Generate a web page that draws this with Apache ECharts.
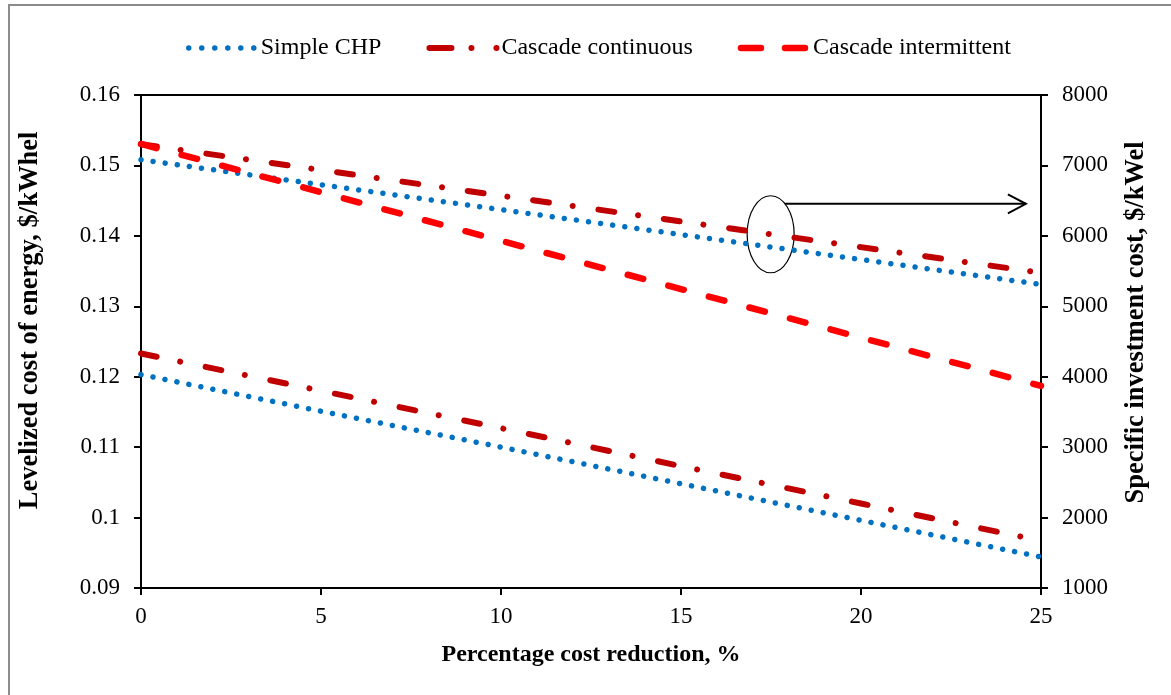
<!DOCTYPE html>
<html>
<head>
<meta charset="utf-8">
<script src="https://cdn.jsdelivr.net/npm/echarts@6/dist/echarts.min.js"></script>
<style>
  html, body { margin: 0; padding: 0; background: #fff; }
  #chart { width: 1171px; height: 695px; }
</style>
</head>
<body>
<div id="chart"></div>
<script>
// ---- data ----
const costReduction = [0, 5, 10, 15, 20, 25];           // %
// Specific investment cost, $/kWel (right axis)
const simpleInvest       = [7080, 6726, 6372, 6018, 5664, 5310];
const continuousInvest   = [7300, 6935, 6570, 6205, 5840, 5475];
const intermittentInvest = [7305, 6620, 5930, 5245, 4555, 3870];
// Levelized cost of energy, $/kWhel (left axis)
const simpleLcoe     = [0.1203, 0.1151, 0.1100, 0.1048, 0.0996, 0.0944];
const continuousLcoe = [0.1233, 0.1180, 0.1127, 0.1073, 0.1020, 0.0967];

const seriesNames = ['Simple CHP', 'Cascade continuous', 'Cascade intermittent'];
const xTitle = 'Percentage cost reduction, %';
const yLeftTitle = 'Levelized cost of energy, $/kWhel';
const yRightTitle = 'Specific investment cost, $/kWel';

const FONT = '"Liberation Serif", "Times New Roman", serif';
const pairs = (ys) => costReduction.map((x, i) => [x, ys[i]]);

const styleSimple = { color: '#0070C0', width: 5.5, cap: 'round', type: [0.01, 12.2] };
const styleCont   = { color: '#C00000', width: 6, cap: 'round', type: [16, 24, 0.01, 26] };
const styleInter  = { color: '#FF0000', width: 6.5, cap: 'round', type: [16, 26] };
const legendStyles = [
  { color: '#0070C0', width: 5.5, cap: 'round', type: [0.01, 13] },
  { color: '#C00000', width: 6, cap: 'round', type: [22, 20, 0.01, 25, 0.01, 100] },
  { color: '#FF0000', width: 6.5, cap: 'round', type: [20, 24] }
];

function mkSeries(name, data, yIdx, ls) {
  return {
    name, type: 'line', data: pairs(data), yAxisIndex: yIdx,
    symbol: 'none', showSymbol: false, smooth: false,
    lineStyle: ls, itemStyle: { color: ls.color }, animation: false
  };
}

const chart = echarts.init(document.getElementById('chart'), null, { renderer: 'canvas' });
const axisLine = { show: true, onZero: false, lineStyle: { color: '#000', width: 2 } };
const axisTick = { show: true, length: 7, lineStyle: { color: '#000', width: 2 } };
const labelStyle = { color: '#000', fontFamily: FONT, fontSize: 23 };
const nameStyle = { color: '#000', fontFamily: FONT, fontSize: 24, fontWeight: 'bold' };
const vNameStyle = Object.assign({}, nameStyle, { fontSize: 26.5 });

chart.setOption({
  backgroundColor: '#fff',
  animation: false,
  textStyle: { fontFamily: FONT },
  grid: { left: 141, right: 130, top: 95, bottom: 107, show: true, borderColor: '#000', borderWidth: 2, backgroundColor: 'transparent' },
  legend: {
    data: seriesNames.map((n, i) => ({ name: n, lineStyle: legendStyles[i] })),
    left: 181, top: 31,
    itemWidth: 70, itemHeight: 22, itemGap: 45,
    textStyle: { color: '#000', fontFamily: FONT, fontSize: 24, padding: [0, 0, 0, -3] },
    itemStyle: { opacity: 0 },
    selectedMode: false
  },
  xAxis: {
    type: 'value', min: 0, max: 25, interval: 5,
    name: xTitle, nameLocation: 'middle', nameGap: 55, nameTextStyle: nameStyle,
    axisLine, axisTick, splitLine: { show: false },
    axisLabel: Object.assign({ margin: 17 }, labelStyle)
  },
  yAxis: [
    {
      type: 'value', min: 0.09, max: 0.16, interval: 0.01, position: 'left',
      name: yLeftTitle, nameLocation: 'middle', nameGap: 97, nameRotate: 90,
      nameTextStyle: Object.assign({}, vNameStyle, { padding: [0, 0, 0, 42] }),
      axisLine, axisTick, splitLine: { show: false },
      axisLabel: Object.assign({ margin: 21, formatter: v => String(+v.toFixed(2)) }, labelStyle)
    },
    {
      type: 'value', min: 1000, max: 8000, interval: 1000, position: 'right',
      name: yRightTitle, nameLocation: 'middle', nameGap: 82, nameRotate: 90,
      nameTextStyle: Object.assign({}, vNameStyle, { padding: [0, 0, 0, 38] }),
      axisLine, axisTick, splitLine: { show: false },
      axisLabel: Object.assign({ margin: 21, formatter: v => String(Math.round(v)) }, labelStyle)
    }
  ],
  series: [
    mkSeries(seriesNames[0], simpleInvest, 1, styleSimple),
    mkSeries(seriesNames[0], simpleLcoe, 0, styleSimple),
    mkSeries(seriesNames[1], continuousInvest, 1, styleCont),
    mkSeries(seriesNames[1], continuousLcoe, 0, styleCont),
    mkSeries(seriesNames[2], intermittentInvest, 1, styleInter)
  ]
});

// annotation: ellipse around the upper curves with an arrow pointing to the right axis
const ellC = chart.convertToPixel({ xAxisIndex: 0, yAxisIndex: 1 }, [17.49, 6023]);
const arrowY = chart.convertToPixel({ yAxisIndex: 1 }, 6455);
const arrowEndX = chart.convertToPixel({ xAxisIndex: 0 }, 24.58);
const rx = 23.5, ry = 38.5;
const dy = (arrowY - ellC[1]) / ry;
const arrowStartX = ellC[0] + rx * Math.sqrt(Math.max(0, 1 - dy * dy));

chart.setOption({
  graphic: [
    { type: 'rect', silent: true, z: -1, shape: { x: 9, y: 5, width: 1200, height: 720 },
      style: { fill: 'none', stroke: '#8c8c8c', lineWidth: 2 } },
    { type: 'ellipse', silent: true, shape: { cx: ellC[0], cy: ellC[1], rx, ry },
      style: { fill: 'none', stroke: '#000', lineWidth: 1.2 } },
    { type: 'line', silent: true, shape: { x1: arrowStartX, y1: arrowY, x2: arrowEndX, y2: arrowY },
      style: { stroke: '#000', lineWidth: 2 } },
    { type: 'polyline', silent: true,
      shape: { points: [[arrowEndX - 18, arrowY - 9.5], [arrowEndX, arrowY], [arrowEndX - 18, arrowY + 9.5]] },
      style: { fill: 'none', stroke: '#000', lineWidth: 2 } }
  ]
});
</script>
</body>
</html>
